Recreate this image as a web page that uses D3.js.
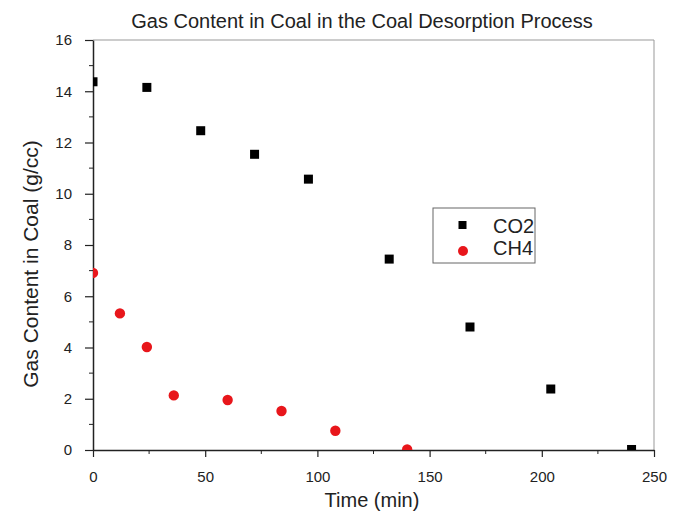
<!DOCTYPE html>
<html><head><meta charset="utf-8">
<script src="https://cdn.jsdelivr.net/npm/d3@7"></script>
<style>body{margin:0;background:#fff}text{font-family:"Liberation Sans",Arial,sans-serif}</style>
</head><body><svg id="c" width="673" height="517"></svg>
<script>
const co2Time = [0, 24, 48, 72, 96, 132, 168, 204, 240];
const co2Gas = [14.37, 14.15, 12.46, 11.54, 10.57, 7.45, 4.8, 2.38, 0.02];
const ch4Time = [0, 12, 24, 36, 60, 84, 108, 140];
const ch4Gas = [6.91, 5.33, 4.02, 2.13, 1.95, 1.52, 0.75, 0.02];
const xTicks = [0, 50, 100, 150, 200, 250];
const yTicks = [0, 2, 4, 6, 8, 10, 12, 14, 16];

const svg = d3.select("#c");
const L = 93, R = 654, T = 40, B = 450;
const x = d3.scaleLinear().domain([0, 250]).range([L, R]);
const y = d3.scaleLinear().domain([0, 16]).range([B, T]);

svg.append("defs").append("clipPath").attr("id","clip")
  .append("rect").attr("x",L).attr("y",T).attr("width",R-L).attr("height",B-T);

svg.append("path").attr("d",`M${L},${T}H${R}V${B}`).attr("fill","none").attr("stroke","#999").attr("stroke-width",1);

const xa = svg.append("g").attr("transform",`translate(0,${B})`)
  .call(d3.axisBottom(x).tickValues(xTicks).tickSize(7).tickSizeOuter(0).tickPadding(14));
xa.append("g").selectAll("line").data(d3.range(25,250,50)).join("line")
  .attr("x1",d=>x(d)).attr("x2",d=>x(d)).attr("y1",0).attr("y2",4).attr("stroke","#222");
const ya = svg.append("g").attr("transform",`translate(${L},0)`)
  .call(d3.axisLeft(y).tickValues(yTicks).tickSize(8).tickSizeOuter(0).tickPadding(13));
ya.append("g").selectAll("line").data(d3.range(1,16,2)).join("line")
  .attr("y1",d=>y(d)).attr("y2",d=>y(d)).attr("x1",0).attr("x2",-4).attr("stroke","#222");
[xa,ya].forEach(a=>{
  a.selectAll("path").attr("stroke","#222").attr("stroke-width",1.5);
  a.selectAll(".tick line").attr("stroke","#222").attr("stroke-width",1.2);
  a.selectAll("text").attr("font-size",15).attr("fill","#222").attr("font-family","Liberation Sans, Arial, sans-serif");
});

const g = svg.append("g").attr("clip-path","url(#clip)");
g.selectAll("rect.co2").data(co2Time).join("rect").attr("class","co2")
  .attr("x",(d,i)=>x(d)-4.5).attr("y",(d,i)=>y(co2Gas[i])-4.5).attr("width",9).attr("height",9).attr("fill","#000");
g.selectAll("circle.ch4").data(ch4Time).join("circle").attr("class","ch4")
  .attr("cx",d=>x(d)).attr("cy",(d,i)=>y(ch4Gas[i])).attr("r",5.2).attr("fill","#e8161b");

const lg = svg.append("g");
lg.append("rect").attr("x",433).attr("y",208).attr("width",102).attr("height",55).attr("fill","#fff").attr("stroke","#666");
lg.append("rect").attr("x",458.5).attr("y",221).attr("width",8).attr("height",8).attr("fill","#000");
lg.append("circle").attr("cx",463).attr("cy",251).attr("r",5).attr("fill","#e8161b");
lg.append("text").attr("x",493).attr("y",233).attr("font-size",20).attr("fill","#222").text("CO2");
lg.append("text").attr("x",493).attr("y",255).attr("font-size",20).attr("fill","#222").text("CH4");

svg.append("text").attr("x",362).attr("y",28).attr("text-anchor","middle").attr("font-size",20).attr("fill","#222")
  .text("Gas Content in Coal in the Coal Desorption Process");
svg.append("text").attr("x",372).attr("y",507).attr("text-anchor","middle").attr("font-size",20).attr("fill","#222").text("Time (min)");
svg.append("text").attr("transform","translate(38,264) rotate(-90)").attr("text-anchor","middle").attr("font-size",21).attr("fill","#222")
  .text("Gas Content in Coal (g/cc)");
</script></body></html>
